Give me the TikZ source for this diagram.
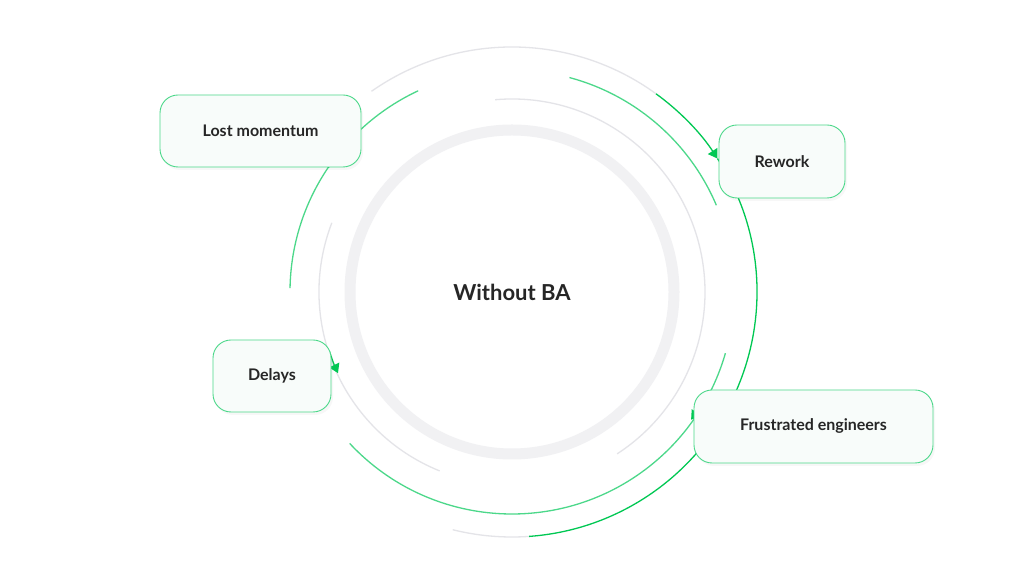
\documentclass[tikz,border=0pt]{standalone}
\usepackage{fontspec}
\setmainfont{Lato}
\usetikzlibrary{arrows.meta,shadows}
\definecolor{ringgray}{HTML}{F1F1F3}
\definecolor{thingray}{HTML}{E4E4E8}
\definecolor{litegreen}{HTML}{4CD88A}
\definecolor{darkgreen}{HTML}{00C853}
\definecolor{boxfill}{HTML}{F8FCFA}
\tikzset{
  stagebox/.style={draw=litegreen, line width=0.9pt, fill=boxfill, rounded corners=18pt,
    font=\bfseries\fontsize{16}{18}\selectfont, text=black!85,
    drop shadow={opacity=0.06, shadow xshift=2pt, shadow yshift=-3pt}},
  marker/.style={darkgreen, line width=1.3pt, -{Triangle[length=9pt,width=11pt]}}
}
\begin{document}
\begin{tikzpicture}[x=1pt, y=1pt]
	\useasboundingbox[fill=white] (0,0) rectangle (1024,585);
	\coordinate (c) at (512,293);

	% rings
	\draw[ringgray, line width=11pt] (c) circle[radius=162];
	\draw[thingray, line width=1.3pt] (c) ++(95:193) arc[start angle=95, end angle=-57, radius=193];
	\draw[thingray, line width=1.3pt] (c) ++(159:193) arc[start angle=159, end angle=248, radius=193];
	\draw[litegreen, line width=1.3pt] (c) ++(179:222) arc[start angle=179, end angle=115, radius=222];
	\draw[litegreen, line width=1.3pt] (c) ++(75:222) arc[start angle=75, end angle=23, radius=222];
	\draw[litegreen, line width=1.3pt] (c) ++(223:222) arc[start angle=223, end angle=344, radius=222];
	\draw[thingray, line width=1.3pt] (c) ++(125:245) arc[start angle=125, end angle=54, radius=245];
	\draw[thingray, line width=1.3pt] (c) ++(-86:245) arc[start angle=-86, end angle=-104, radius=245];
	\draw[darkgreen, line width=1.3pt] (c) ++(33:245) arc[start angle=33, end angle=-86, radius=245];

	% markers
	\draw[marker] (c) ++(54:245) arc[start angle=54, end angle=33, radius=245];
	\draw[marker] (c) ++(140:222) arc[start angle=140, end angle=146, radius=222];
	\draw[marker] (c) ++(-28:220) arc[start angle=-28, end angle=-35.5, radius=220];
	\draw[marker] (c) ++(-162:192) arc[start angle=-162, end angle=-155, radius=192];

	% stages
	\node[stagebox, minimum width=201pt, minimum height=72pt] (lost) at (260.5,454) {Lost momentum};
	\node[stagebox, minimum width=126pt, minimum height=73pt] (rework) at (782,423.5) {Rework};
	\node[stagebox, minimum width=118pt, minimum height=72pt] (delays) at (272,209) {Delays};
	\node[stagebox, minimum width=239pt, minimum height=73pt] (frustrated) at (813.5,158.5) {Frustrated engineers};

	\node[font=\bfseries\fontsize{22}{26}\selectfont, text=black!85] (title) at (c) {Without BA};
\end{tikzpicture}
\end{document}
